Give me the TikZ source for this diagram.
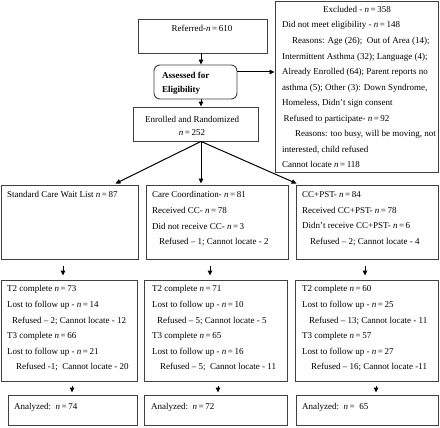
\documentclass[tikz,border=0pt]{standalone}
\usepackage{fontspec}
\setmainfont{Liberation Serif}
\usetikzlibrary{arrows.meta,calc}
\newcommand{\nn}[1]{\textit{n}\,=\,#1}
\begin{document}
\begin{tikzpicture}[x=1pt,y=-1pt,
  box/.style={draw=black!75, line width=0.9pt, inner sep=0},
  txt/.style={inner sep=0, font=\fontsize{9}{15.55}\selectfont, align=left, anchor=north west},
  ctxt/.style={inner sep=0, font=\fontsize{9}{13}\selectfont, align=center, anchor=north},
  arr/.style={-{Triangle[length=5pt,width=4.5pt]}, line width=1pt, black}
]
\useasboundingbox (0,0) rectangle (440,428);

% boxes
\node[box, minimum width=129, minimum height=34] (ref) at (202.5,36) {};
\node[box, rounded corners=6pt, minimum width=83, minimum height=34] (assess) at (195.5,82) {};
\node[box, minimum width=125, minimum height=34] (enrol) at (195.5,124) {};
\node[box, minimum width=163, minimum height=171] (excl) at (356.5,86.5) {};

\node[box, minimum width=137, minimum height=74] (r2a) at (69.5,222) {};
\node[box, minimum width=142, minimum height=74] (r2b) at (217,222) {};
\node[box, minimum width=142, minimum height=74] (r2c) at (367,222) {};

\node[box, minimum width=136, minimum height=101] (r3a) at (69,330.5) {};
\node[box, minimum width=143, minimum height=101] (r3b) at (215.5,330.5) {};
\node[box, minimum width=143, minimum height=101] (r3c) at (366.5,330.5) {};

\node[box, minimum width=129, minimum height=30] (r4a) at (72.5,410) {};
\node[box, minimum width=143, minimum height=30] (r4b) at (215.5,410) {};
\node[box, minimum width=142, minimum height=30] (r4c) at (367,410) {};

% texts
\node[ctxt] (tref) at (202,24.5) {Referred-\nn{610}};
\node[txt, font=\fontsize{9}{14}\selectfont\bfseries] (tassess) at (162,71.5) {Assessed for\\Eligibility};
\node[ctxt] (tenrol) at (192,116.5) {Enrolled and Randomized\\\nn{252}};

\node[ctxt] (texcl) at (357,6.5) {Excluded - \nn{358}};
\node[txt] (texclb) at (282,21.5) {Did not meet eligibility - \nn{148}\\
\hspace*{10pt}Reasons: Age (26);\ \ Out of Area (14);\\
Intermittent Asthma (32); Language (4);\\
Already Enrolled (64); Parent reports no\\
asthma (5); Other (3): Down Syndrome,\\
Homeless, Didn’t sign consent\\
\hspace*{1.5pt}Refused to participate- \nn{92}\\
\hspace*{13pt}Reasons: too busy, will be moving, not\\
interested, child refused\\
Cannot locate \nn{118}};

\node[txt] (t2a) at (7,191.5) {Standard Care Wait List \nn{87}};
\node[txt] (t2b) at (152,191.5) {Care Coordination- \nn{81}\\
Received CC- \nn{78}\\
Did not receive CC- \nn{3}\\
\hspace*{7pt}Refused -- 1; Cannot locate - 2};
\node[txt] (t2c) at (302,191.5) {CC+PST- \nn{84}\\
Received CC+PST- \nn{78}\\
Didn’t receive CC+PST- \nn{6}\\
\hspace*{8pt}Refused -- 2; Cannot locate - 4};

\node[txt] (t3a) at (7,285.5) {T2 complete \nn{73}\\
Lost to follow up - \nn{14}\\
\hspace*{5pt}Refused -- 2; Cannot locate - 12\\
T3 complete \nn{66}\\
Lost to follow up - \nn{21}\\
\hspace*{9pt}Refused -1;\ \ Cannot locate - 20};
\node[txt] (t3b) at (152,285.5) {T2 complete \nn{71}\\
Lost to follow up - \nn{10}\\
\hspace*{5pt}Refused -- 5; Cannot locate - 5\\
T3 complete \nn{65}\\
Lost to follow up - \nn{16}\\
\hspace*{8pt}Refused -- 5;\ \ Cannot locate - 11};
\node[txt] (t3c) at (302,285.5) {T2 complete \nn{60}\\
Lost to follow up - \nn{25}\\
\hspace*{7pt}Refused -- 13; Cannot locate - 11\\
T3 complete \nn{57}\\
Lost to follow up - \nn{27}\\
\hspace*{9pt}Refused -- 16; Cannot locate -11};

\node[txt] (t4a) at (14,403.5) {Analyzed:\ \ \nn{74}};
\node[txt] (t4b) at (151,403.5) {Analyzed:\ \ \nn{72}};
\node[txt] (t4c) at (302,403.5) {Analyzed:\ \ \textit{n}\,=\ \ 65};

% connectors
\coordinate (ax) at (201,0);
\coordinate (hy) at (0,72);
\draw[arr] (ref.south -| ax) -- (assess.north -| ax);
\draw[arr] (assess.south -| ax) -- (enrol.north -| ax);
\draw[arr] (assess.east |- hy) -- (excl.west |- hy);
\draw[arr] (enrol.south -| ax) -- ($(r2a.north)+(46,-1)$);
\draw[arr] (enrol.south -| ax) -- ($(r2b.north -| ax)+(0,-1)$);
\draw[arr] (enrol.south -| ax) -- ($(r2c.north west)+(1,-1)$);

\draw[arr, shorten <=7pt, shorten >=4pt] ($(r2a.south)+(-6.5,0)$) -- ($(r3a.north)+(-6,0)$);
\draw[arr, shorten <=7pt, shorten >=4pt] ($(r2b.south)+(-7,0)$) -- ($(r3b.north)+(-5.5,0)$);
\draw[arr, shorten <=7pt, shorten >=4pt] ($(r2c.south)+(-2,0)$) -- ($(r3c.north)+(-1.5,0)$);

\draw[arr, shorten <=5pt, shorten >=2pt] ($(r3a.south)+(3,0)$) -- ($(r4a.north)+(-0.5,0)$);
\draw[arr, shorten <=5pt, shorten >=2pt] ($(r3b.south)+(2.5,0)$) -- ($(r4b.north)+(2.5,0)$);
\draw[arr, shorten <=5pt, shorten >=2pt] ($(r3c.south)+(9.5,0)$) -- ($(r4c.north)+(9,0)$);
\end{tikzpicture}
\end{document}
